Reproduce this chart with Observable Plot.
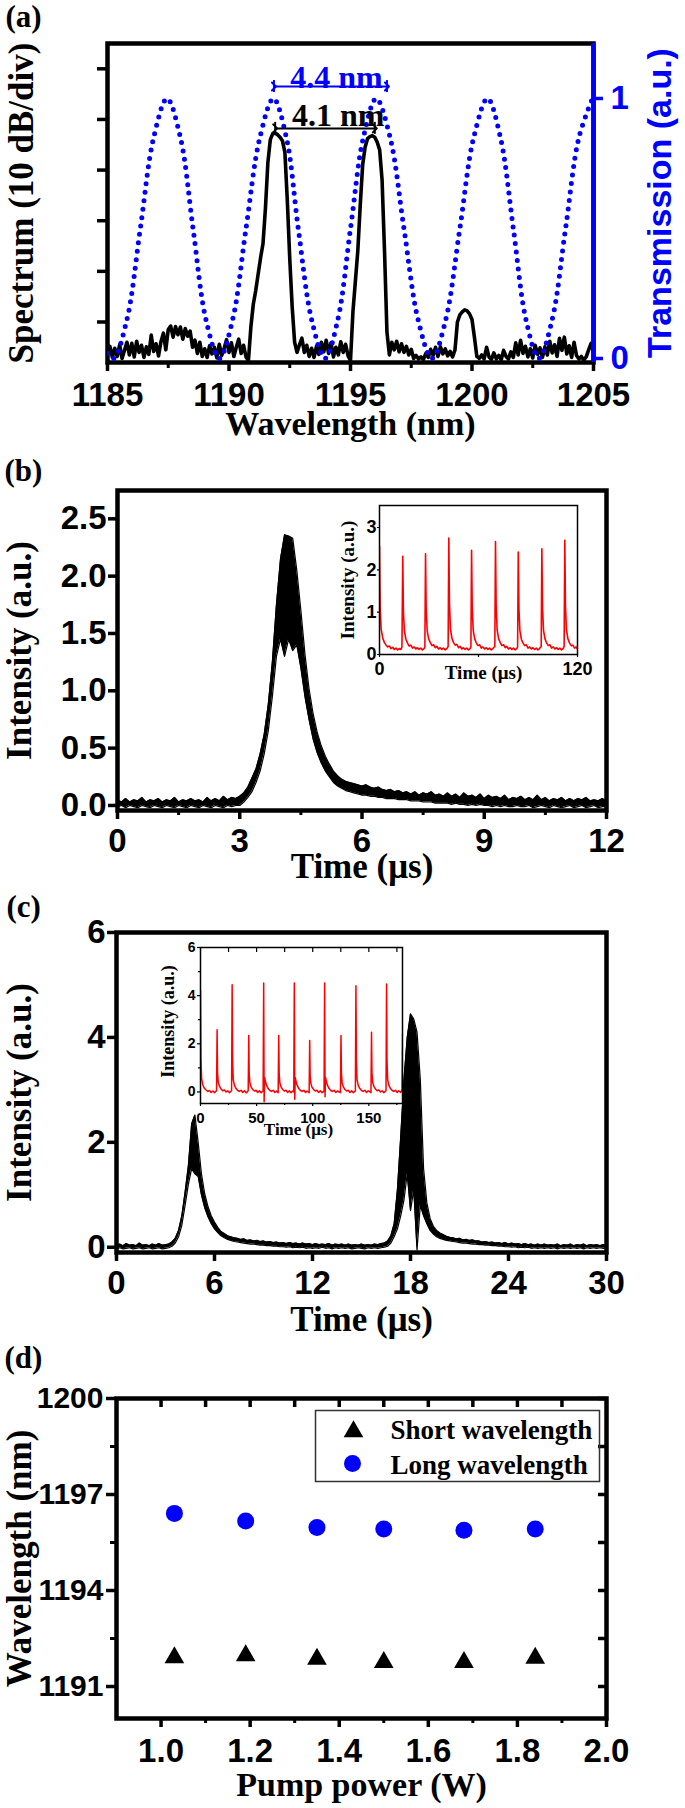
<!DOCTYPE html>
<html><head><meta charset="utf-8">
<script src="https://cdn.jsdelivr.net/npm/d3@7"></script>
<script src="https://cdn.jsdelivr.net/npm/@observablehq/plot@0.6"></script>
<style>
body{margin:0;background:#fff;}
#root{position:relative;width:685px;height:1808px;overflow:hidden;background:#fff;}
</style></head><body><div id="root"></div>
<script>
const SANS = "'Liberation Sans', Arial, sans-serif";
const SERIF = "'Liberation Serif', 'Times New Roman', serif";

// ---------- (a) spectrum (dB, 10 dB/div) sampled every 0.1 nm from 1185 nm ----------
const specStart = 1185, specStep = 0.1;
const specDb = [
 -66.0,-64.8,-67.0,-65.2,-66.8,-64.5,-67.2,-65.6,-64.0,-66.5,
 -64.2,-66.9,-63.8,-66.0,-64.6,-67.0,-64.9,-66.4,-62.6,-65.8,
 -64.3,-66.7,-63.9,-62.2,-65.5,-61.5,-60.8,-63.0,-60.9,-62.5,
 -61.0,-63.4,-61.3,-62.8,-61.8,-65.0,-63.6,-66.2,-64.0,-66.8,
 -65.3,-67.0,-64.7,-66.3,-65.0,-67.1,-64.4,-66.6,-65.2,-63.5,
 -66.0,-64.1,-66.8,-65.0,-63.4,-66.2,-64.6,-66.9,-67.6,-61.0,
 -56.5,-53.8,-50.5,-47.3,-44.5,-37.5,-28.5,-24.0,-22.8,-22.7,
 -23.0,-23.5,-24.2,-26.5,-36.0,-47.5,-57.0,-64.0,-66.0,-64.5,
 -63.2,-66.0,-64.6,-66.8,-65.2,-67.0,-64.8,-66.4,-64.0,-65.9,
 -63.6,-66.2,-64.1,-66.9,-65.0,-66.5,-63.9,-66.0,-64.4,-66.7,
 -67.6,-58.0,-52.0,-46.0,-37.0,-29.0,-25.5,-23.8,-23.4,-23.2,
 -23.5,-24.5,-26.0,-32.0,-46.0,-62.0,-66.5,-64.0,-65.5,-63.8,
 -65.9,-64.3,-66.0,-64.8,-66.5,-65.4,-67.2,-66.6,-67.3,-66.9,
 -67.4,-66.2,-67.0,-65.4,-66.6,-65.0,-66.8,-64.9,-66.3,-65.3,
 -66.7,-65.8,-66.9,-65.5,-60.0,-58.6,-58.0,-57.6,-57.8,-58.4,
 -59.5,-63.0,-66.8,-67.2,-66.5,-67.3,-65.0,-66.9,-67.4,-66.1,
 -67.3,-66.6,-67.5,-65.6,-66.8,-67.3,-65.9,-67.0,-64.1,-66.5,
 -63.6,-66.2,-64.8,-66.9,-65.3,-67.1,-64.6,-66.4,-65.1,-67.0,
 -64.9,-66.5,-63.8,-66.1,-64.5,-66.8,-63.2,-65.6,-63.0,-66.3,
 -64.7,-67.0,-64.0,-66.6,-67.3,-66.8,-67.5,-66.9,-65.5,-64.2,
 -66.0
];
// filter transmission
const transWl = [1185.0,1185.25,1185.8,1186.35,1186.9,1187.45,1188.0,1188.52,1189.05,1189.6,1190.15,1190.7,1191.27,1191.83,1192.36,1192.85,1193.4,1193.95,1194.48,1195.0,1195.53,1196.06,1196.63,1197.2,1197.78,1198.35,1198.92,1199.5,1200.07,1200.64,1201.17,1201.7,1202.22,1202.75,1203.3,1203.85,1204.4,1204.96];
const transT = [0.02,0.0,0.15,0.5,0.85,1.0,0.85,0.5,0.15,0.0,0.15,0.5,0.85,1.0,0.85,0.5,0.15,0.0,0.15,0.5,0.85,1.0,0.85,0.5,0.15,0.0,0.15,0.5,0.85,1.0,0.85,0.5,0.15,0.0,0.15,0.5,0.85,1.0];
const aXMajor = [1185,1190,1195,1200,1205];
const aXMinor = [1187.5,1192.5,1197.5,1202.5];
const aYTicks = [-60,-50,-40,-30,-20,-10];
const spacingNotes = [
  {text:"4.4 nm", x1:1191.85, x2:1196.5, y:1.046, tx:1194.42, ty:1.042, color:"blue"},
  {text:"4.1 nm", x1:1191.9, x2:1196.0, y:0.885, tx:1194.49, ty:0.896, color:"black"}
];

// ---------- (b) single pulse, envelope sampled every 0.1 us ----------
const bStep = 0.1;
const bHi = [
 0.05,0.03,0.06,0.03,0.05,0.04,0.07,0.03,0.05,0.04,
 0.06,0.03,0.05,0.04,0.07,0.03,0.05,0.04,0.06,0.04,
 0.05,0.03,0.07,0.04,0.06,0.04,0.08,0.05,0.07,0.06,
 0.08,0.11,0.16,0.24,0.32,0.45,0.62,0.88,1.25,1.75,
 2.15,2.36,2.35,2.33,2.05,1.70,1.32,1.02,0.80,0.64,
 0.52,0.43,0.36,0.30,0.26,0.23,0.21,0.20,0.19,0.18,
 0.17,0.18,0.16,0.15,0.16,0.14,0.13,0.14,0.12,0.13,
 0.11,0.12,0.10,0.12,0.09,0.11,0.10,0.12,0.09,0.10,
 0.08,0.11,0.08,0.10,0.07,0.11,0.08,0.09,0.07,0.10,
 0.06,0.09,0.07,0.08,0.06,0.09,0.05,0.07,0.06,0.08,
 0.05,0.07,0.05,0.09,0.05,0.07,0.04,0.06,0.05,0.07,
 0.04,0.06,0.04,0.06,0.05,0.07,0.04,0.05,0.04,0.06,
 0.04
];
const bLo = [
 -0.01,0.00,-0.02,0.00,-0.01,-0.02,0.00,-0.01,-0.02,0.00,
 -0.01,-0.02,0.00,-0.01,-0.02,0.00,-0.01,-0.02,0.00,-0.01,
 -0.02,0.00,-0.01,-0.02,0.00,-0.01,-0.02,0.00,-0.01,0.00,
 0.00,0.03,0.07,0.12,0.20,0.30,0.45,0.65,0.95,1.30,
 1.45,1.30,1.45,1.35,1.40,1.20,0.95,0.75,0.58,0.46,
 0.37,0.30,0.25,0.20,0.17,0.15,0.13,0.12,0.11,0.10,
 0.09,0.09,0.08,0.08,0.07,0.07,0.06,0.06,0.06,0.05,
 0.05,0.05,0.04,0.04,0.04,0.03,0.03,0.03,0.02,0.02,
 0.02,0.02,0.01,0.02,0.01,0.01,0.00,0.01,0.00,0.01,
 0.00,0.00,-0.01,0.00,-0.01,0.00,-0.01,-0.01,0.00,-0.01,
 -0.01,0.00,-0.02,-0.01,0.00,-0.01,-0.02,0.00,-0.01,-0.02,
 -0.01,0.00,-0.02,-0.01,0.00,-0.02,-0.01,0.00,-0.02,-0.01,
 -0.01
];
// (b) inset pulse train [time us, intensity]
const insetBTrace = [
 [0,2.55],[0.4,1.1],[1,0.6],[2,0.38],[3,0.28],[4,0.22],[5,0.18],[6,0.2],[7,0.14],[8,0.17],[9,0.12],[10,0.15],[11,0.11],[12,0.14],[13,0.12],[13.6,0.18],
 [14.1,2.32],[14.5,1.0],[15.1,0.55],[16,0.36],[17,0.27],[18,0.2],[19,0.22],[20,0.15],[21,0.18],[22,0.13],[23,0.16],[24,0.12],[25,0.15],[26,0.11],[27,0.14],[27.5,0.18],
 [27.9,2.38],[28.3,1.05],[28.9,0.56],[29.8,0.37],[30.8,0.28],[31.8,0.21],[32.8,0.23],[33.8,0.16],[34.8,0.19],[35.8,0.13],[36.8,0.16],[37.8,0.12],[38.8,0.15],[39.8,0.11],[40.8,0.14],[41.6,0.19],
 [42.0,2.75],[42.4,1.2],[43,0.6],[43.9,0.38],[44.9,0.28],[45.9,0.22],[46.9,0.24],[47.9,0.16],[48.9,0.19],[49.9,0.13],[50.9,0.16],[51.9,0.12],[52.9,0.15],[53.9,0.11],[54.9,0.14],[55.4,0.18],
 [55.8,2.46],[56.2,1.1],[56.8,0.57],[57.7,0.37],[58.7,0.27],[59.7,0.21],[60.7,0.23],[61.7,0.15],[62.7,0.18],[63.7,0.13],[64.7,0.16],[65.7,0.12],[66.7,0.15],[67.7,0.11],[68.7,0.14],[69.9,0.19],
 [70.3,2.67],[70.7,1.15],[71.3,0.58],[72.2,0.37],[73.2,0.28],[74.2,0.21],[75.2,0.23],[76.2,0.16],[77.2,0.19],[78.2,0.13],[79.2,0.16],[80.2,0.12],[81.2,0.15],[82.2,0.11],[83.2,0.14],[83.7,0.18],
 [84.1,2.42],[84.5,1.08],[85.1,0.56],[86,0.36],[87,0.27],[88,0.21],[89,0.23],[90,0.15],[91,0.18],[92,0.13],[93,0.16],[94,0.12],[95,0.15],[96,0.11],[97,0.14],[98,0.19],
 [98.4,2.5],[98.8,1.1],[99.4,0.57],[100.3,0.37],[101.3,0.27],[102.3,0.21],[103.3,0.23],[104.3,0.15],[105.3,0.18],[106.3,0.13],[107.3,0.16],[108.3,0.12],[109.3,0.15],[110.3,0.11],[111.3,0.14],[111.9,0.19],
 [112.3,2.7],[112.7,1.15],[113.3,0.58],[114.2,0.37],[115.2,0.27],[116.2,0.21],[117.2,0.22],[118.2,0.15],[119.2,0.18],[120,0.13]
];

// ---------- (c) two pulses, envelope sampled every 0.2 us ----------
const cStep = 0.2;
const cHi = [
 0.04,0.06,0.03,0.07,0.04,0.05,0.03,0.08,0.04,0.05,
 0.03,0.06,0.04,0.07,0.04,0.05,0.06,0.10,0.17,0.32,
 0.60,1.05,1.55,2.35,2.52,2.00,1.40,1.02,0.78,0.60,
 0.48,0.38,0.30,0.26,0.22,0.20,0.18,0.17,0.15,0.16,
 0.13,0.14,0.12,0.13,0.11,0.12,0.10,0.11,0.09,0.10,
 0.08,0.09,0.07,0.09,0.07,0.08,0.06,0.08,0.06,0.07,
 0.05,0.07,0.05,0.06,0.05,0.07,0.04,0.06,0.05,0.06,
 0.04,0.06,0.04,0.05,0.04,0.06,0.04,0.05,0.04,0.06,
 0.05,0.07,0.08,0.12,0.22,0.45,1.10,2.10,3.20,4.00,
 4.45,4.35,4.10,3.20,1.50,0.85,0.55,0.40,0.32,0.27,
 0.24,0.21,0.19,0.18,0.16,0.17,0.14,0.15,0.13,0.14,
 0.12,0.12,0.10,0.11,0.09,0.10,0.08,0.09,0.07,0.09,
 0.06,0.08,0.06,0.07,0.05,0.07,0.05,0.06,0.04,0.06,
 0.04,0.06,0.04,0.05,0.04,0.06,0.03,0.05,0.04,0.06,
 0.03,0.05,0.04,0.06,0.03,0.05,0.04,0.05,0.03,0.05,
 0.04
];
const cLo = [
 -0.03,-0.01,-0.03,-0.02,-0.01,-0.03,-0.02,-0.01,-0.03,-0.02,
 -0.01,-0.03,-0.02,-0.01,-0.03,-0.02,-0.01,0.02,0.08,0.20,
 0.42,0.80,1.20,1.50,1.40,1.35,1.00,0.75,0.58,0.45,
 0.35,0.28,0.22,0.18,0.15,0.13,0.11,0.10,0.09,0.08,
 0.07,0.06,0.06,0.05,0.04,0.04,0.03,0.03,0.02,0.02,
 0.01,0.01,0.00,0.01,-0.01,0.00,-0.01,0.00,-0.02,-0.01,
 -0.02,-0.01,-0.02,0.00,-0.02,-0.01,-0.03,-0.01,-0.02,-0.01,
 -0.02,-0.01,-0.03,-0.02,-0.01,-0.02,-0.03,-0.01,-0.02,-0.01,
 -0.02,-0.01,0.00,0.02,0.08,0.20,0.35,0.60,0.90,1.40,
 0.70,1.10,-0.05,0.80,0.60,0.45,0.32,0.25,0.20,0.17,
 0.15,0.13,0.12,0.11,0.10,0.09,0.08,0.08,0.07,0.06,
 0.06,0.05,0.05,0.04,0.04,0.03,0.03,0.02,0.02,0.01,
 0.01,0.00,0.01,-0.01,0.00,-0.01,0.00,-0.02,-0.01,-0.02,
 -0.01,-0.02,-0.01,-0.02,-0.01,-0.03,-0.01,-0.02,-0.01,-0.02,
 -0.01,-0.02,-0.01,-0.03,-0.01,-0.02,-0.01,-0.02,-0.01,-0.02,
 -0.01
];
// (c) inset pulse train [time us, intensity]
const insetCTrace = [
 [0,4.2],[0.4,1.4],[1,0.55],[2,0.3],[3.5,0.15],[5,0.08],[6.5,0.02],[8,0.06],[9.5,-0.02],[11,0.04],[12.5,-0.03],[14.3,0.05],
 [14.8,2.58],[15.2,0.8],[15.8,0.4],[16.8,0.25],[18.3,0.12],[19.8,0.05],[21.3,0.08],[22.8,0.0],[24.3,0.05],[25.8,-0.03],[27.7,0.06],
 [28.2,4.45],[28.6,1.3],[29.2,0.5],[30.2,0.28],[31.7,0.14],[33.2,0.06],[34.7,0.02],[36.2,0.07],[37.7,-0.02],[39.2,0.05],[40.7,-0.04],[42.5,0.05],
 [43.0,2.34],[43.4,0.75],[44,0.38],[45,0.22],[46.5,0.1],[48,0.04],[49.5,0.07],[51,-0.02],[52.5,0.05],[54,-0.03],[55.8,0.04],
 [56.3,4.53],[56.7,-0.41],[57.1,0.6],[57.8,0.45],[58.8,0.28],[60.3,0.14],[61.8,0.06],[63.3,0.02],[64.8,0.07],[66.3,-0.02],[67.8,0.04],[69.2,-0.03],
 [69.7,2.34],[70.1,0.75],[70.7,0.38],[71.7,0.22],[73.2,0.1],[74.7,0.04],[76.2,0.07],[77.7,-0.02],[79.2,0.05],[80.7,-0.03],[82.2,0.04],[83.1,0.0],
 [83.6,4.53],[84.0,-0.3],[84.4,0.6],[85.1,0.45],[86.1,0.28],[87.6,0.14],[89.1,0.06],[90.6,0.02],[92.1,0.07],[93.6,-0.02],[95.1,0.04],[96.8,-0.03],
 [97.3,2.14],[97.7,0.7],[98.3,0.36],[99.3,0.2],[100.8,0.1],[102.3,0.04],[103.8,0.07],[105.3,-0.02],[106.8,0.05],[108.3,-0.03],[110.1,0.04],
 [110.6,4.53],[111.0,-0.2],[111.4,0.6],[112.1,0.45],[113.1,0.28],[114.6,0.14],[116.1,0.06],[117.6,0.02],[119.1,0.07],[120.6,-0.02],[122.1,0.04],[124.7,-0.03],
 [125.2,2.34],[125.6,0.75],[126.2,0.38],[127.2,0.22],[128.7,0.1],[130.2,0.04],[131.7,0.07],[133.2,-0.02],[134.7,0.05],[136.2,-0.03],[138.0,0.04],
 [138.5,4.41],[138.9,1.3],[139.5,0.5],[140.5,0.28],[142,0.14],[143.5,0.06],[145,0.02],[146.5,0.07],[148,-0.02],[149.5,0.05],[151.9,-0.03],
 [152.4,2.48],[152.8,0.8],[153.4,0.4],[154.4,0.24],[155.9,0.12],[157.4,0.05],[158.9,0.08],[160.4,0.0],[161.9,0.05],[163.4,-0.03],[165.3,0.05],
 [165.8,4.48],[166.2,1.3],[166.8,0.5],[167.8,0.28],[169.3,0.14],[170.8,0.06],[172.3,0.02],[173.8,0.07],[175.3,-0.02],[176.8,0.05],[178.5,-0.02],[179.6,0.1],[180.1,2.4]
];

// ---------- (d) wavelength vs pump power ----------
const pumpPower = [1.03, 1.19, 1.35, 1.50, 1.68, 1.84];
const shortWl = [1192.0, 1192.06, 1191.95, 1191.85, 1191.85, 1191.98];
const longWl  = [1196.41, 1196.17, 1195.97, 1195.92, 1195.88, 1195.92];
const dYMajor = [1191,1194,1197,1200];
const dYMinor = [1192.5,1195.5,1198.5];
const dXMajor = [1.0,1.2,1.4,1.6,1.8,2.0];
const dXMinor = [1.1,1.3,1.5,1.7,1.9];
const dXTop = [1.0,1.1,1.2,1.3,1.4,1.5,1.6,1.7,1.8,1.9];

// ---------- build tables ----------
const spectrum = specDb.map((v,i)=>({wl: specStart + i*specStep, db: v}));
const trans = transWl.map((w,i)=>({wl: w, t: transT[i]}));
const bTrace = bHi.map((h,i)=>({t: i*bStep, hi: h, lo: bLo[i]}));
const cTrace = cHi.map((h,i)=>({t: i*cStep, hi: h, lo: cLo[i]}));
const shortPts = pumpPower.map((p,i)=>({p, wl: shortWl[i]}));
const longPts = pumpPower.map((p,i)=>({p, wl: longWl[i]}));
const spacingEnds = spacingNotes.flatMap(n => [
  {x:n.x1, y1:n.y-0.023, y2:n.y+0.023, color:n.color},
  {x:n.x2, y1:n.y-0.023, y2:n.y+0.023, color:n.color}]);

const root = document.getElementById("root");
function place(svg, top){
  svg.style.position = "absolute"; svg.style.left = "0px"; svg.style.top = top + "px";
  svg.style.background = "transparent"; svg.style.overflow = "visible";
  root.appendChild(svg);
}
const baseStyle = {fontFamily: SANS, background: "transparent", overflow: "visible"};
const serifBold = {fontFamily: SERIF, fontWeight: "bold"};
const T = s => [s];
const txt = {text: d => d};
const vtxt = {text: d => d, rotate: -90, textAnchor: "middle", lineAnchor: "bottom"};
const fmtInt = d3.format("d");

// ---------- panel (a) ----------
place(Plot.plot({
  width: 685, height: 440, marginLeft: 107, marginRight: 92, marginTop: 43, marginBottom: 78,
  x: {domain: [1185, 1205]}, y: {domain: [-68, -5]},
  style: baseStyle,
  marks: [
    Plot.line(spectrum, {x: "wl", y: "db", stroke: "black", strokeWidth: 3.6, strokeLinejoin: "round", clip: true}),
    Plot.axisX({ticks: aXMajor, tickSize: 9, tickPadding: 11, strokeWidth: 3.5, fontSize: 33, fontWeight: "bold", tickFormat: fmtInt, label: null}),
    Plot.axisX({ticks: aXMinor, tickSize: 6, strokeWidth: 3, tickFormat: () => "", label: null}),
    Plot.axisY({ticks: aYTicks, tickSize: 10, strokeWidth: 3.5, tickFormat: () => "", label: null}),
    Plot.frame({stroke: "black", strokeWidth: 4.5}),
    Plot.text(T("Wavelength (nm)"), {...txt, ...serifBold, frameAnchor: "bottom", dy: 72, lineAnchor: "bottom", fontSize: 34}),
    Plot.text(T("Spectrum (10 dB/div)"), {...vtxt, ...serifBold, frameAnchor: "left", dx: -75, fontSize: 35}),
    Plot.text(T("(a)"), {...txt, ...serifBold, frameAnchor: "top-left", dx: -102, dy: -17, textAnchor: "start", lineAnchor: "bottom", fontSize: 31})
  ]
}), 0);

place(Plot.plot({
  width: 685, height: 440, marginLeft: 107, marginRight: 92, marginTop: 43, marginBottom: 78,
  x: {domain: [1185, 1205], axis: null}, y: {domain: [-0.0154, 1.2115]},
  style: baseStyle,
  marks: [
    Plot.line(trans, {x: "wl", y: "t", curve: "catmull-rom", stroke: "blue", strokeWidth: 5, strokeDasharray: "0 8.5", strokeLinecap: "round", clip: true}),
    Plot.ruleX([aXMajor[aXMajor.length-1]], {stroke: "blue", strokeWidth: 4.5}),
    Plot.axisY({anchor: "right", ticks: [0, 1], tickSize: 9, tickPadding: 8, tickFormat: fmtInt, color: "blue", strokeWidth: 3.5, fontSize: 33, fontWeight: "bold", label: null}),
    Plot.text(T("Transmission (a.u.)"), {...vtxt, frameAnchor: "right", dx: 77, fill: "blue", fontSize: 34, fontWeight: "bold"}),
    Plot.link(spacingNotes, {x1: "x1", x2: "x2", y1: "y", y2: "y", stroke: d => d.color, strokeWidth: 2, markerStart: "arrow", markerEnd: "arrow"}),
    Plot.ruleX(spacingEnds, {x: "x", y1: "y1", y2: "y2", stroke: d => d.color, strokeWidth: 2}),
    Plot.text(spacingNotes, {x: "tx", y: "ty", text: "text", fill: d => d.color, ...serifBold, fontSize: 32, lineAnchor: "bottom"})
  ]
}), 0);

// ---------- panel (b) ----------
place(Plot.plot({
  width: 685, height: 450, marginLeft: 117, marginRight: 79, marginTop: 50, marginBottom: 80,
  x: {domain: [0, 12]}, y: {domain: [-0.044, 2.747]},
  style: baseStyle,
  marks: [
    Plot.areaY(bTrace, {x: "t", y1: "lo", y2: "hi", fill: "black", clip: true}),
    Plot.line(bTrace, {x: "t", y: "hi", stroke: "black", strokeWidth: 1.2, clip: true}),
    Plot.line(bTrace, {x: "t", y: "lo", stroke: "black", strokeWidth: 1.2, clip: true}),
    Plot.axisY({ticks: [0, 0.5, 1, 1.5, 2, 2.5], tickSize: 9, tickPadding: 2, tickFormat: d3.format(".1f"), fontSize: 33, fontWeight: "bold", strokeWidth: 3.5, label: null}),
    Plot.axisX({ticks: [0, 3, 6, 9, 12], tickSize: 9, tickPadding: 9, tickFormat: fmtInt, fontSize: 33, fontWeight: "bold", strokeWidth: 3.5, label: null}),
    Plot.axisX({ticks: [1.5, 4.5, 7.5, 10.5], tickSize: 5, tickFormat: () => "", strokeWidth: 3, label: null}),
    Plot.frame({stroke: "black", strokeWidth: 4.5}),
    Plot.text(T("Time (\u03bcs)"), {...txt, ...serifBold, frameAnchor: "bottom", dy: 67, lineAnchor: "bottom", fontSize: 35}),
    Plot.text(T("Intensity (a.u.)"), {...vtxt, ...serifBold, frameAnchor: "left", dx: -87, fontSize: 35}),
    Plot.text(T("(b)"), {...txt, ...serifBold, frameAnchor: "top-left", dx: -113, dy: -10, textAnchor: "start", lineAnchor: "bottom", fontSize: 31})
  ]
}), 440);

place(Plot.plot({
  width: 685, height: 450, marginLeft: 379, marginRight: 108, marginTop: 65, marginBottom: 236,
  x: {domain: [0, 120]}, y: {domain: [0, 3.52]},
  style: baseStyle,
  marks: [
    Plot.line(insetBTrace, {x: d => d[0], y: d => d[1], stroke: "red", strokeWidth: 1.6, clip: true}),
    Plot.axisY({ticks: [0, 1, 2, 3], tickSize: 2, tickPadding: 1, tickFormat: fmtInt, fontSize: 18, fontWeight: "bold", strokeWidth: 1.2, label: null}),
    Plot.axisX({ticks: [0, 60, 120], tickSize: 3, tickPadding: 5, fontSize: 18, fontWeight: "bold", strokeWidth: 1.2, tickFormat: d => d === 60 ? "" : String(d), label: null}),
    Plot.frame({stroke: "black", strokeWidth: 1.5}),
    Plot.text(T("Time (\u03bcs)"), {...txt, ...serifBold, frameAnchor: "bottom", dy: 24, dx: 5, lineAnchor: "bottom", fontSize: 19}),
    Plot.text(T("Intensity (a.u.)"), {...vtxt, ...serifBold, frameAnchor: "left", dx: -26, fontSize: 19})
  ]
}), 440);

// ---------- panel (c) ----------
place(Plot.plot({
  width: 685, height: 455, marginLeft: 116, marginRight: 79, marginTop: 42, marginBottom: 93,
  x: {domain: [0, 30]}, y: {domain: [-0.1, 6]},
  style: baseStyle,
  marks: [
    Plot.areaY(cTrace, {x: "t", y1: "lo", y2: "hi", fill: "black", clip: true}),
    Plot.line(cTrace, {x: "t", y: "hi", stroke: "black", strokeWidth: 1.2, clip: true}),
    Plot.line(cTrace, {x: "t", y: "lo", stroke: "black", strokeWidth: 1.2, clip: true}),
    Plot.axisY({ticks: [0, 2, 4, 6], tickSize: 9, tickPadding: 2, tickFormat: fmtInt, fontSize: 33, fontWeight: "bold", strokeWidth: 3.5, label: null}),
    Plot.axisX({ticks: [0, 6, 12, 18, 24, 30], tickSize: 9, tickPadding: 9, tickFormat: fmtInt, fontSize: 33, fontWeight: "bold", strokeWidth: 3.5, label: null}),
    Plot.frame({stroke: "black", strokeWidth: 4.5}),
    Plot.text(T("Time (\u03bcs)"), {...txt, ...serifBold, frameAnchor: "bottom", dy: 78, lineAnchor: "bottom", fontSize: 35}),
    Plot.text(T("Intensity (a.u.)"), {...vtxt, ...serifBold, frameAnchor: "left", dx: -86, fontSize: 35}),
    Plot.text(T("(c)"), {...txt, ...serifBold, frameAnchor: "top-left", dx: -110, dy: -16, textAnchor: "start", lineAnchor: "bottom", fontSize: 31})
  ]
}), 890);

place(Plot.plot({
  width: 685, height: 455, marginLeft: 200, marginRight: 283, marginTop: 57, marginBottom: 242,
  x: {domain: [0, 180]}, y: {domain: [-0.48, 6]},
  style: baseStyle,
  marks: [
    Plot.line(insetCTrace, {x: d => d[0], y: d => d[1], stroke: "red", strokeWidth: 1.5, clip: true}),
    Plot.axisY({ticks: [0, 2, 4, 6], tickSize: 3, tickPadding: 2, tickFormat: fmtInt, fontSize: 14, fontWeight: "bold", strokeWidth: 1.2, label: null}),
    Plot.axisY({ticks: [1, 3, 5], tickSize: 2, tickFormat: () => "", strokeWidth: 1.2, label: null}),
    Plot.axisX({ticks: [0, 50, 100, 150], tickSize: 3, tickPadding: 6, tickFormat: fmtInt, fontSize: 15, fontWeight: "bold", strokeWidth: 1.2, label: null}),
    Plot.axisX({ticks: [25, 75, 125, 175], tickSize: 2, tickFormat: () => "", strokeWidth: 1.2, label: null}),
    Plot.axisX({anchor: "top", ticks: [25, 50, 75, 100, 125, 150, 175], tickSize: 4, insetTop: 4, tickFormat: () => "", strokeWidth: 1.2, label: null}),
    Plot.frame({stroke: "black", strokeWidth: 1.5}),
    Plot.text(T("Time (\u03bcs)"), {...txt, ...serifBold, frameAnchor: "bottom", dy: 31, dx: -3, lineAnchor: "bottom", fontSize: 17}),
    Plot.text(T("Intensity (a.u.)"), {...vtxt, ...serifBold, frameAnchor: "left", dx: -27, dy: -4, fontSize: 18})
  ]
}), 890);

// ---------- panel (d) ----------
place(Plot.plot({
  width: 685, height: 468, marginLeft: 116, marginRight: 79, marginTop: 58, marginBottom: 90,
  x: {domain: [0.9, 2.0]}, y: {domain: [1190, 1200]},
  style: baseStyle,
  marks: [
    Plot.axisY({ticks: dYMajor, tickSize: 10, tickPadding: 3, tickFormat: fmtInt, fontSize: 30, fontWeight: "bold", strokeWidth: 3.5, label: null}),
    Plot.axisY({ticks: dYMinor, tickSize: 6, tickFormat: () => "", strokeWidth: 3, label: null}),
    Plot.axisY({anchor: "right", ticks: dYMajor.concat(dYMinor), tickSize: 9, insetRight: 9, tickFormat: () => "", strokeWidth: 3.5, label: null}),
    Plot.axisX({ticks: dXMajor, tickSize: 9, tickPadding: 11, tickFormat: d3.format(".1f"), fontSize: 33, fontWeight: "bold", strokeWidth: 3.5, label: null}),
    Plot.axisX({ticks: dXMinor, tickSize: 5, tickFormat: () => "", strokeWidth: 3, label: null}),
    Plot.axisX({anchor: "top", ticks: dXTop, tickSize: 8, insetTop: 8, tickFormat: () => "", strokeWidth: 3.5, label: null}),
    Plot.frame({stroke: "black", strokeWidth: 4.5}),
    Plot.dot(longPts, {x: "p", y: "wl", r: 8.5, fill: "blue"}),
    Plot.dot(shortPts, {x: "p", y: "wl", symbol: "triangle", r: 7.3, fill: "black", dy: 3}),
    Plot.frame({insetLeft: 199, insetRight: 7, insetTop: 12, insetBottom: 237, stroke: "#333", strokeWidth: 1.5}),
    Plot.dot([0], {frameAnchor: "top-left", dx: 237, dy: 33, symbol: "triangle", r: 7.3, fill: "black"}),
    Plot.dot([0], {frameAnchor: "top-left", dx: 236, dy: 65, r: 8.5, fill: "blue"}),
    Plot.text(T("Short wavelength"), {...txt, ...serifBold, frameAnchor: "top-left", dx: 274, dy: 40, textAnchor: "start", lineAnchor: "bottom", fontSize: 27}),
    Plot.text(T("Long wavelength"), {...txt, ...serifBold, frameAnchor: "top-left", dx: 274, dy: 75, textAnchor: "start", lineAnchor: "bottom", fontSize: 27}),
    Plot.text(T("Pump power (W)"), {...txt, ...serifBold, frameAnchor: "bottom", dy: 77, lineAnchor: "bottom", fontSize: 34}),
    Plot.text(T("Wavelength (nm)"), {...vtxt, ...serifBold, frameAnchor: "left", dx: -86, fontSize: 35}),
    Plot.text(T("(d)"), {...txt, ...serifBold, frameAnchor: "top-left", dx: -112, dy: -31, textAnchor: "start", lineAnchor: "bottom", fontSize: 31})
  ]
}), 1340);
</script></body></html>
